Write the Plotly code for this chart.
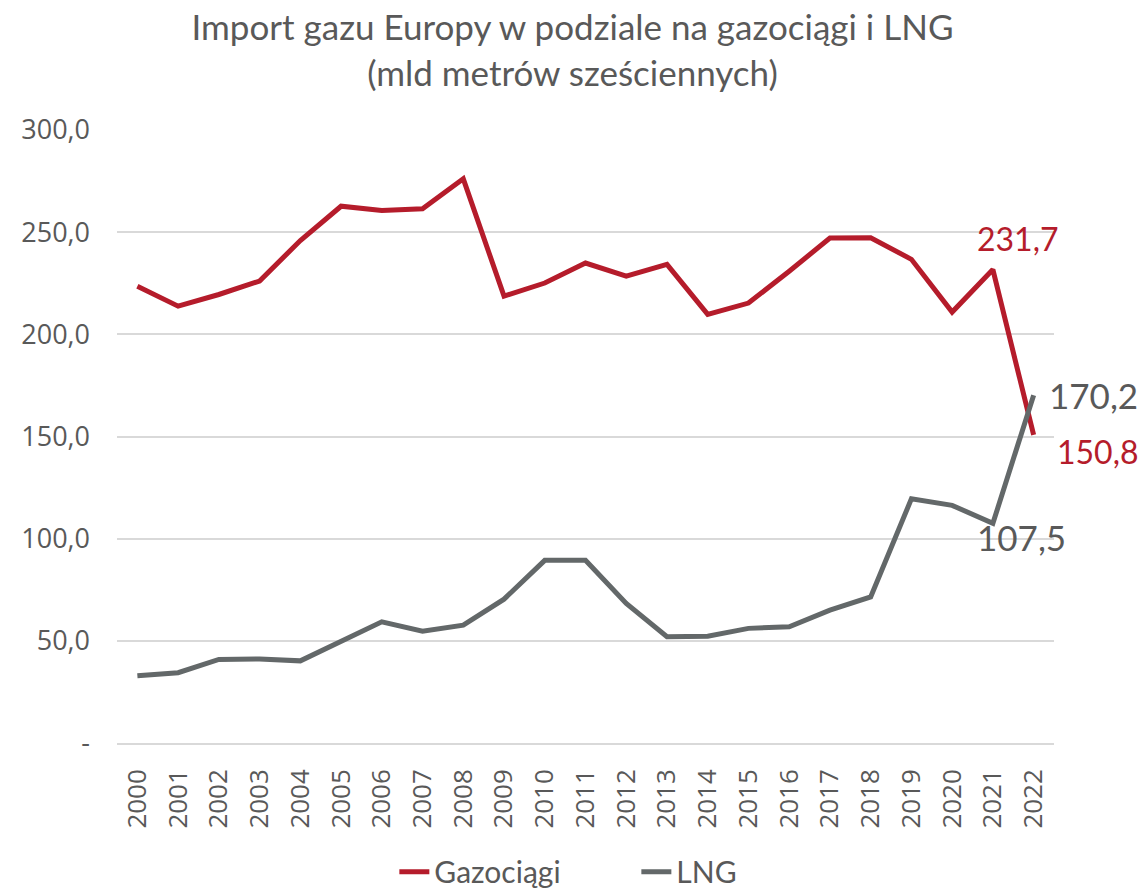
import plotly.graph_objects as go

years = [str(y) for y in range(2000, 2023)]
gazociagi = [223.5, 213.8, 219.5, 226.1, 245.9, 262.7, 260.6, 261.4, 276.1, 218.7,
             225.1, 234.9, 228.5, 234.2, 209.8, 215.3, 230.9, 247.1, 247.3, 236.7,
             210.9, 231.7, 150.8]
lng = [32.9, 34.4, 40.9, 41.1, 40.2, 50.0, 59.3, 54.7, 57.7, 70.4,
       89.4, 89.4, 68.3, 52.0, 52.3, 56.1, 56.9, 65.0, 71.5, 119.5,
       116.3, 107.5, 170.2]
y_ticks = [0, 50, 100, 150, 200, 250, 300]
y_ticktext = ["-", "50,0", "100,0", "150,0", "200,0", "250,0", "300,0"]

RED = "#b51c2b"
GREY = "#636869"
TXT = "#595959"

fig = go.Figure()
fig.add_trace(go.Scatter(x=years, y=gazociagi, name="Gazociągi", mode="lines",
                         line=dict(color=RED, width=5)))
fig.add_trace(go.Scatter(x=years, y=lng, name="LNG", mode="lines",
                         line=dict(color=GREY, width=5)))


def fmt(v):
    return f"{v:.1f}".replace(".", ",")


# data labels on the last two years (x given as category index)
n = len(years)
labels = [
    (n - 2, gazociagi[-2], RED, 32, "center", 25, 31),
    (n - 1, gazociagi[-1], RED, 32, "center", 64, -17),
    (n - 1, lng[-1], TXT, 35, "left", 13, 0),
    (n - 2, lng[-2], TXT, 35, "center", 29, -14),
]
for x, y, c, size, anchor, dx, dy in labels:
    fig.add_annotation(x=x, y=y, text=fmt(y), showarrow=False,
                       xanchor=anchor, yanchor="middle", xshift=dx, yshift=dy,
                       font=dict(family="Lato", size=size, color=c))

fig.update_layout(
    width=1145, height=889,
    paper_bgcolor="white", plot_bgcolor="white",
    margin=dict(l=117, r=91, t=130, b=146, autoexpand=False),
    title=dict(text="Import gazu Europy w podziale na gazociągi i LNG<br>(mld metrów sześciennych)",
               x=0.5, xanchor="center", y=0.955, yanchor="middle",
               font=dict(family="Lato", size=35, color=TXT)),
    legend=dict(orientation="h", x=0.296, xanchor="left", y=-0.21, yanchor="middle",
                entrywidth=197, entrywidthmode="pixels",
                font=dict(family="Lato", size=30, color=TXT)),
    showlegend=True,
)
fig.update_xaxes(type="category", range=[-0.5, 22.5], tickangle=-90, automargin=False,
                 showgrid=False, showline=True, linecolor="#d9d9d9", linewidth=1.5,
                 ticks="", ticklabelstandoff=14,
                 tickfont=dict(family="Open Sans", size=26, color=TXT))
fig.update_yaxes(range=[0, 300], tickvals=y_ticks, ticktext=y_ticktext, automargin=False,
                 showgrid=True, gridcolor="#d9d9d9", gridwidth=1.5,
                 zeroline=False, ticks="", ticklabelstandoff=26,
                 tickfont=dict(family="Open Sans", size=27, color=TXT))

fig.write_html("out.html", config={"displayModeBar": False},
               post_script="document.body.style.margin='0';")
